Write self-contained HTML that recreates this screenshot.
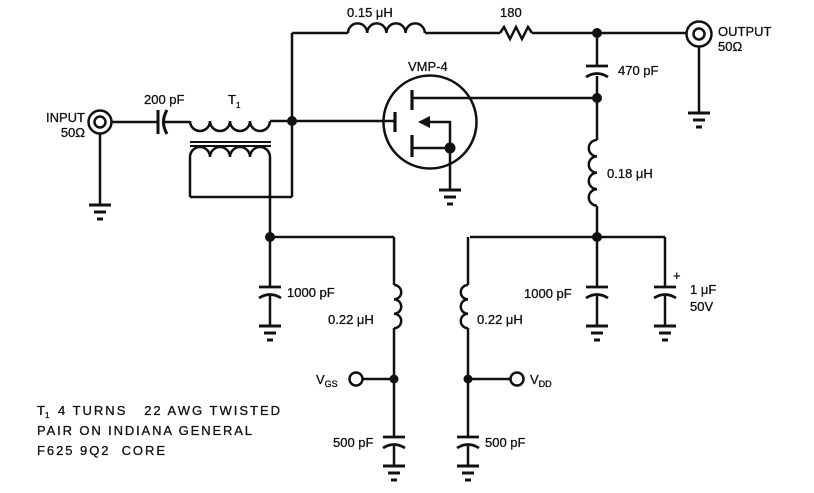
<!DOCTYPE html>
<html><head><style>
html,body{margin:0;padding:0;background:#fff;}
svg{display:block}
text{font-family:"Liberation Sans",Arial,sans-serif;fill:#111;font-size:13px;stroke:#111;stroke-width:0.3;white-space:pre}
</style></head><body>
<svg width="814" height="493" viewBox="0 0 814 493" xmlns="http://www.w3.org/2000/svg">
<defs>
<g id="gnd" stroke="#111" stroke-width="3" fill="none">
<line x1="-11" y1="0" x2="11" y2="0"/><line x1="-6" y1="7" x2="6" y2="7"/><line x1="-3" y1="14" x2="3" y2="14"/>
</g>
<g id="capv" stroke="#111" stroke-width="2.8" fill="none">
<line x1="-11" y1="-4" x2="11" y2="-4"/><path d="M-11 7 Q0 0 11 7"/>
</g>
</defs>
<g stroke="#111" stroke-width="2.5" fill="none">
<circle cx="100" cy="122" r="11.5"/><circle cx="100" cy="122" r="5.5"/>
<line x1="112" y1="122" x2="158" y2="122"/>
<line x1="158" y1="110" x2="158" y2="134" stroke-width="3"/>
<path d="M167 110 Q160 122 167 134" stroke-width="3"/>
<line x1="163" y1="122" x2="190" y2="122"/>
<line x1="100" y1="134" x2="100" y2="205"/>
<path d="M190 121 a10 10 0 0 0 20 0 a10 10 0 0 0 20 0 a10 10 0 0 0 20 0 a10 10 0 0 0 20 0"/>
<line x1="270" y1="121" x2="292" y2="121"/>
<line x1="190" y1="142" x2="271" y2="142" stroke-width="2"/>
<line x1="190" y1="146" x2="271" y2="146" stroke-width="2"/>
<path d="M190 197 L190 157 a10 10 0 0 1 20 0 a10 10 0 0 1 20 0 a10 10 0 0 1 20 0 a10 10 0 0 1 20 0 L270 237"/>
<line x1="190" y1="197" x2="292" y2="197"/>
<line x1="292" y1="33" x2="292" y2="197"/>
<line x1="292" y1="33" x2="348" y2="33"/>
<path d="M348 33 a9.6 9.6 0 0 1 19.2 0 a9.6 9.6 0 0 1 19.2 0 a9.6 9.6 0 0 1 19.2 0 a9.6 9.6 0 0 1 19.2 0"/>
<line x1="425" y1="33" x2="500" y2="33"/>
<path d="M500 33 l4 -6 l6 12 l6 -12 l6 12 l6 -12 l4 6"/>
<line x1="532" y1="33" x2="686" y2="33"/>
<circle cx="699" cy="34" r="12.5"/><circle cx="699" cy="34" r="5.5"/>
<line x1="699" y1="46" x2="699" y2="113"/>
<line x1="292" y1="121" x2="395" y2="121"/>
<circle cx="430" cy="122" r="46.5"/>
<line x1="395" y1="112" x2="395" y2="132" stroke-width="3.2"/>
<line x1="412" y1="90" x2="412" y2="110" stroke-width="3.2"/>
<line x1="412" y1="135" x2="412" y2="157" stroke-width="3.2"/>
<line x1="412" y1="98" x2="597" y2="98"/>
<line x1="412" y1="148" x2="450" y2="148"/>
<path d="M428 122 L450 122 L450 190"/>
<line x1="597" y1="33" x2="597" y2="66"/>
<line x1="597" y1="76" x2="597" y2="140"/>
<path d="M597 140 a8.2 8.2 0 0 0 0 16.4 a8.2 8.2 0 0 0 0 16.4 a8.2 8.2 0 0 0 0 16.4 a8.2 8.2 0 0 0 0 16.4"/>
<line x1="597" y1="206" x2="597" y2="286"/>
<line x1="470" y1="237" x2="665" y2="237"/>
<line x1="665" y1="237" x2="665" y2="286"/>
<line x1="597" y1="296" x2="597" y2="326"/>
<line x1="665" y1="296" x2="665" y2="326"/>
<line x1="270" y1="237" x2="394" y2="237"/>
<line x1="270" y1="237" x2="270" y2="286"/>
<line x1="270" y1="296" x2="270" y2="326"/>
<line x1="394" y1="237" x2="394" y2="285"/>
<path d="M394 285 a7.2 7.2 0 0 1 0 14.4 a7.2 7.2 0 0 1 0 14.4 a7.2 7.2 0 0 1 0 14.4"/>
<line x1="394" y1="328" x2="394" y2="436"/>
<line x1="394" y1="446" x2="394" y2="466"/>
<circle cx="356" cy="379" r="6.5"/>
<line x1="363" y1="379" x2="394" y2="379"/>
<line x1="468" y1="237" x2="468" y2="285"/>
<path d="M468 285 a7.2 7.2 0 0 0 0 14.4 a7.2 7.2 0 0 0 0 14.4 a7.2 7.2 0 0 0 0 14.4"/>
<line x1="468" y1="328" x2="468" y2="436"/>
<line x1="468" y1="446" x2="468" y2="466"/>
<circle cx="517" cy="379" r="6.5"/>
<line x1="468" y1="379" x2="510" y2="379"/>
</g>
<use href="#capv" x="597" y="70"/>
<use href="#capv" x="597" y="291"/>
<use href="#capv" x="665" y="291"/>
<use href="#capv" x="270" y="291"/>
<use href="#capv" x="394" y="441"/>
<use href="#capv" x="468" y="441"/>
<use href="#gnd" x="100" y="205"/>
<use href="#gnd" x="450" y="190"/>
<use href="#gnd" x="699" y="113"/>
<use href="#gnd" x="597" y="326"/>
<use href="#gnd" x="665" y="326"/>
<use href="#gnd" x="270" y="326"/>
<use href="#gnd" x="394" y="466"/>
<use href="#gnd" x="468" y="466"/>
<g fill="#111">
<circle cx="292" cy="121" r="5"/><circle cx="597" cy="33" r="5"/><circle cx="597" cy="98" r="5"/>
<circle cx="597" cy="237" r="5"/><circle cx="270" cy="237" r="5"/><circle cx="450" cy="148" r="5.5"/>
<circle cx="394" cy="379" r="4.5"/><circle cx="468" cy="379" r="4.5"/>
<path d="M418 122 L430 116 L430 128 Z"/>
</g>
<text x="85" y="122" text-anchor="end">INPUT</text>
<text x="85" y="137" text-anchor="end">50Ω</text>
<text x="144" y="104">200 pF</text>
<text x="228" y="104">T<tspan font-size="8" dy="4">1</tspan></text>
<text x="347" y="17">0.15 μH</text>
<text x="500" y="17">180</text>
<text x="718" y="36">OUTPUT</text>
<text x="718" y="51">50Ω</text>
<text x="408" y="71">VMP-4</text>
<text x="618" y="75">470 pF</text>
<text x="607" y="178">0.18 μH</text>
<text x="524" y="298">1000 pF</text>
<text x="690" y="294">1 μF</text>
<text x="690" y="311">50V</text>
<text x="673" y="280" font-size="10">+</text>
<text x="287" y="297">1000 pF</text>
<text x="328" y="324">0.22 μH</text>
<text x="477" y="324">0.22 μH</text>
<text x="316" y="384">V<tspan font-size="9" dy="3">GS</tspan></text>
<text x="530" y="384">V<tspan font-size="9" dy="3">DD</tspan></text>
<text x="333" y="447">500 pF</text>
<text x="485" y="447">500 pF</text>
<text x="37" y="415" font-size="14">T<tspan font-size="8" dy="3">1</tspan></text>
<text x="58" y="415" font-size="14" textLength="222" lengthAdjust="spacing">4 TURNS   22 AWG TWISTED</text>
<text x="37" y="435" font-size="14" textLength="215" lengthAdjust="spacing">PAIR ON INDIANA GENERAL</text>
<text x="37" y="455" font-size="14" textLength="128" lengthAdjust="spacing">F625 9Q2  CORE</text>
</svg>
</body></html>
